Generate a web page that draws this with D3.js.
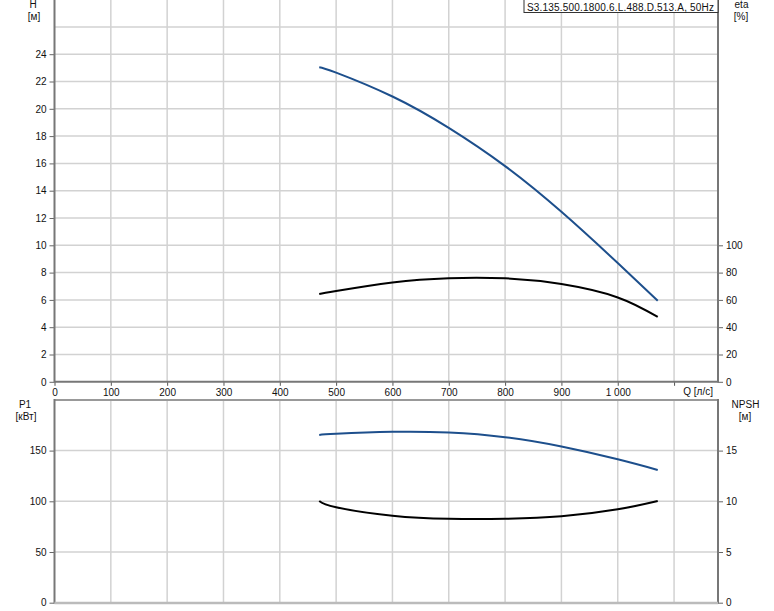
<!DOCTYPE html>
<html><head><meta charset="utf-8">
<script src="https://cdn.jsdelivr.net/npm/d3@7"></script>
<style>body{margin:0;background:#fff}svg{display:block}text{font-family:"Liberation Sans",Arial,sans-serif;font-size:10px;fill:#111}</style>
</head><body><svg id="c" width="774" height="611"></svg>
<script>
const qTicks = [0,100,200,300,400,500,600,700,800,900,1000,1100];
const qTickLabels = ["0","100","200","300","400","500","600","700","800","900","1 000",""];
const hTicks = [0,2,4,6,8,10,12,14,16,18,20,22,24];
const etaTicks = [0,20,40,60,80,100];
const p1Ticks = [0,50,100,150];
const npshTicks = [0,5,10,15];
const q = [470,500,600,700,800,900,1000,1071];
const head = [23.05,22.65,20.9,18.6,15.8,12.45,8.7,5.94];
const eta = [64.3,66.5,72.8,75.9,75.8,71.6,61.8,47.5];
const p1 = [165.4,166.5,168.5,167.8,163.2,154.0,141.4,130.9];
const npsh = [10.03,9.41,8.58,8.28,8.28,8.52,9.21,10.03];
const title = "S3.135.500.1800.6.L.488.D.513.A, 50Hz";

const svg = d3.select("#c");
const L = 54.5, R = 718;
const x = d3.scaleLinear([0,1178],[L,R]);
const yH = d3.scaleLinear([0,28],[381.8,-0.4]);
const yEta = d3.scaleLinear([0,280],[381.8,-0.4]);
const yP = d3.scaleLinear([0,200],[602.7,399.9]);
const yN = d3.scaleLinear([0,20],[602.7,399.9]);
const gridC = "#d2d2d2";

function grid(top, bottom, yScale, yVals){
  const g = svg.append("g");
  g.selectAll(".v").data(qTicks.slice(1)).join("line")
    .attr("x1",d=>x(d)).attr("x2",d=>x(d)).attr("y1",top).attr("y2",bottom)
    .attr("stroke",gridC).attr("stroke-width",1.5);
  g.selectAll(".h").data(yVals).join("line")
    .attr("x1",L).attr("x2",R).attr("y1",d=>yScale(d)).attr("y2",d=>yScale(d))
    .attr("stroke",gridC).attr("stroke-width",1.5);
}
grid(0, 381.8, yH, d3.range(2,28,2));
grid(400, 602.7, yP, [50,100,150]);

function axisLeft(scale, ticks){
  const a = d3.axisLeft(scale).tickValues(ticks).tickSize(5).tickPadding(3);
  const g = svg.append("g").attr("transform",`translate(${L},0)`).call(a);
  g.select(".domain").remove();
  g.selectAll("line").attr("stroke","#666");
  g.selectAll("text").style("font-size","10px").attr("fill","#111");
}
function axisRight(scale, ticks){
  const a = d3.axisRight(scale).tickValues(ticks).tickSize(5).tickPadding(3);
  const g = svg.append("g").attr("transform",`translate(${R},0)`).call(a);
  g.select(".domain").remove();
  g.selectAll("line").attr("stroke","#666");
  g.selectAll("text").style("font-size","10px").attr("fill","#111");
}
axisLeft(yH, hTicks);
axisRight(yEta, etaTicks);
axisLeft(yP, p1Ticks);
axisRight(yN, npshTicks);

const xa = d3.axisBottom(x).tickValues(qTicks).tickSize(4).tickPadding(3)
  .tickFormat((d,i)=>qTickLabels[i]);
const gx = svg.append("g").attr("transform","translate(0,381.8)").call(xa);
gx.select(".domain").remove();
gx.selectAll("line").attr("stroke","#555");
gx.selectAll("text").style("font-size","10px").attr("fill","#111");

svg.append("line").attr("x1",L).attr("x2",L).attr("y1",0).attr("y2",382.5).attr("stroke","#777").attr("stroke-width",2);
svg.append("line").attr("x1",R).attr("x2",R).attr("y1",0).attr("y2",382.5).attr("stroke","#777").attr("stroke-width",2);
svg.append("line").attr("x1",L).attr("x2",R).attr("y1",381.8).attr("y2",381.8).attr("stroke","#777").attr("stroke-width",2);
svg.append("line").attr("x1",L).attr("x2",R).attr("y1",400).attr("y2",400).attr("stroke","#999").attr("stroke-width",2);
svg.append("line").attr("x1",L).attr("x2",L).attr("y1",399).attr("y2",603.5).attr("stroke","#777").attr("stroke-width",2);
svg.append("line").attr("x1",R).attr("x2",R).attr("y1",399).attr("y2",603.5).attr("stroke","#777").attr("stroke-width",2);
svg.append("line").attr("x1",L).attr("x2",R).attr("y1",603).attr("y2",603).attr("stroke","#bbb").attr("stroke-width",2.5);

function curve(ys, yScale, color){
  const line = d3.line().x((d,i)=>x(q[i])).y(d=>yScale(d)).curve(d3.curveNatural);
  svg.append("path").datum(ys).attr("d",line).attr("fill","none")
    .attr("stroke",color).attr("stroke-width",2);
}
const blue = "#1d4f8c";
curve(head, yH, blue);
curve(eta, yEta, "#000");
curve(p1, yP, blue);
curve(npsh, yN, "#000");

function t(txt, xx, yy, anchor){
  return svg.append("text").attr("x",xx).attr("y",yy).attr("text-anchor",anchor||"middle").text(txt);
}
t("H",33,8); t("[м]",34,20);
t("eta",741.5,8); t("[%]",741,20);
t("P1",25,408); t("[кВт]",26,420);
t("NPSH",745.5,408); t("[м]",745,420);
t("Q [л/с]",713,395,"end");

svg.append("rect").attr("x",524).attr("y",-1).attr("width",R-524).attr("height",13.5)
  .attr("fill","#fff").attr("stroke","#333").attr("stroke-width",1);
t(title,527,10.5,"start").attr("textLength",187).attr("lengthAdjust","spacing");
</script></body></html>
